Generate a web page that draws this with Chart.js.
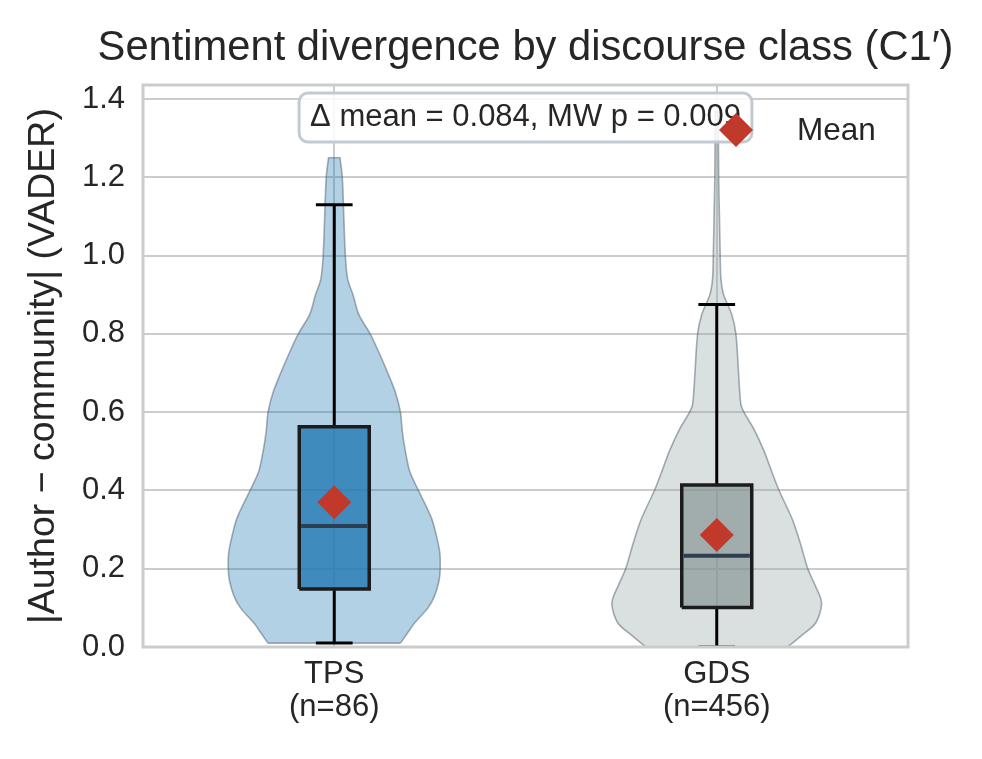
<!DOCTYPE html>
<html>
<head>
<meta charset="utf-8">
<title>Sentiment divergence by discourse class</title>
<script src="https://cdn.jsdelivr.net/npm/chart.js@4.4.1/dist/chart.umd.min.js"></script>
<style>
  html, body { margin: 0; padding: 0; background: #ffffff; }
  #chart-wrap { width: 982px; height: 759px; }
</style>
</head>
<body>
<div id="chart-wrap"><canvas id="violin-chart" width="982" height="759"></canvas></div>
<script>
// Categories and group positions on the x axis
const categories = ['TPS', 'GDS'];
const sampleSizes = [86, 456];
const positions = [0, 1];

// Violin outlines: y level and half width (x units)
const tpsDensityY = [0.01, 0.035, 0.06, 0.1, 0.13, 0.17, 0.2, 0.24, 0.28, 0.33, 0.4, 0.45, 0.5, 0.55, 0.6, 0.65, 0.7, 0.75, 0.8, 0.85, 0.9, 0.94, 1.0, 1.1, 1.2, 1.25];
const tpsHalfWidth = [0.173, 0.191, 0.209, 0.245, 0.262, 0.274, 0.277, 0.276, 0.268, 0.254, 0.220, 0.197, 0.186, 0.178, 0.173, 0.160, 0.140, 0.118, 0.094, 0.064, 0.049, 0.035, 0.029, 0.025, 0.021, 0.015];
const gdsDensityY = [0.0, 0.028, 0.062, 0.113, 0.16, 0.2, 0.26, 0.325, 0.4, 0.45, 0.5, 0.555, 0.6, 0.62, 0.7, 0.8, 0.85, 0.9, 0.94, 1.0, 1.1, 1.2, 1.368];
const gdsHalfWidth = [0.185, 0.220, 0.259, 0.274, 0.256, 0.238, 0.220, 0.198, 0.163, 0.143, 0.124, 0.098, 0.071, 0.063, 0.057, 0.050, 0.039, 0.018, 0.011, 0.009, 0.007, 0.005, 0.004];

// Box plot statistics per group
const whiskerLow = [0.01, 0.0];
const quartile1 = [0.148, 0.101];
const medians = [0.309, 0.233];
const quartile3 = [0.563, 0.414];
const whiskerHigh = [1.13, 0.875];
const means = [0.370, 0.286];

// Axis ticks
const yTicks = [0.0, 0.2, 0.4, 0.6, 0.8, 1.0, 1.2, 1.4];

const violinFill = ['rgba(31, 119, 180, 0.34)', 'rgba(149, 165, 166, 0.35)'];
const boxFill = ['rgba(31, 119, 180, 0.78)', 'rgba(127, 140, 141, 0.62)'];
const fontFamily = '"Liberation Sans", Arial, "DejaVu Sans", sans-serif';
const textColor = '#262626';
const gridColor = '#cccccc';

const boxHalf = 0.0915;
const capHalf = 0.048;

// Build the closed outline of one violin; end points are doubled so the
// spline keeps sharp corners at the flat top and bottom
function violinOutline(center, ys, halfWidths) {
  const right = ys.map((y, i) => ({ x: center + halfWidths[i], y }));
  const left = ys.map((y, i) => ({ x: center - halfWidths[i], y })).reverse();
  const rTop = right[right.length - 1];
  const lBottom = left[left.length - 1];
  return [...right, { ...rTop }, left[0], ...left, { ...lBottom }, { ...right[0] }];
}

function lineSet(points, color, width, order) {
  return {
    type: 'line',
    data: points,
    borderColor: color,
    borderWidth: width,
    pointRadius: 0,
    pointHoverRadius: 0,
    fill: false,
    tension: 0,
    order
  };
}

const datasets = [];

const violinData = [[tpsDensityY, tpsHalfWidth], [gdsDensityY, gdsHalfWidth]];
positions.forEach((c, g) => {
  // Violin body
  datasets.push({
    type: 'line',
    data: violinOutline(c, violinData[g][0], violinData[g][1]),
    borderColor: 'rgba(80, 95, 110, 0.5)',
    borderWidth: 1.6,
    backgroundColor: violinFill[g],
    fill: 'shape',
    pointRadius: 0,
    pointHoverRadius: 0,
    tension: 0.3,
    order: 5
  });

  // Whiskers and caps
  datasets.push(lineSet([{ x: c, y: whiskerLow[g] }, { x: c, y: quartile1[g] }], '#000000', 3, 4));
  datasets.push(lineSet([{ x: c, y: quartile3[g] }, { x: c, y: whiskerHigh[g] }], '#000000', 3, 4));
  datasets.push(lineSet([{ x: c - capHalf, y: whiskerLow[g] }, { x: c + capHalf, y: whiskerLow[g] }], '#000000', 3, 4));
  datasets.push(lineSet([{ x: c - capHalf, y: whiskerHigh[g] }, { x: c + capHalf, y: whiskerHigh[g] }], '#000000', 3, 4));

  // Box
  const box = lineSet([
    { x: c - boxHalf, y: quartile1[g] },
    { x: c + boxHalf, y: quartile1[g] },
    { x: c + boxHalf, y: quartile3[g] },
    { x: c - boxHalf, y: quartile3[g] },
    { x: c - boxHalf, y: quartile1[g] }
  ], '#1c1c1c', 3.5, 3);
  box.backgroundColor = boxFill[g];
  box.fill = 'shape';
  box.borderJoinStyle = 'miter';
  datasets.push(box);

  // Median
  datasets.push(lineSet([{ x: c - boxHalf + 0.005, y: medians[g] }, { x: c + boxHalf - 0.005, y: medians[g] }], '#2c3e50', 4, 2));
});

// Means
datasets.push({
  type: 'line',
  label: 'Mean',
  data: positions.map((c, g) => ({ x: c, y: means[g] })),
  showLine: false,
  pointStyle: 'rectRot',
  pointRadius: 17,
  pointHoverRadius: 17,
  pointBackgroundColor: '#c0392b',
  pointBorderWidth: 0,
  order: 0
});

// Title, annotation box, frame and legend
const decorations = {
  id: 'decorations',
  afterDatasetsDraw(chart) {
    const { ctx, chartArea: a } = chart;
    const cx = (a.left + a.right) / 2;
    ctx.save();

    // Axes frame (all four spines)
    ctx.strokeStyle = gridColor;
    ctx.lineWidth = 3;
    ctx.strokeRect(a.left, a.top, a.right - a.left, a.bottom - a.top);

    // Stats annotation
    const note = '\u0394 mean = 0.084, MW p = 0.009';
    ctx.font = '31px ' + fontFamily;
    const tw = ctx.measureText(note).width;
    const bw = tw + 22, bh = 49, bx = cx - bw / 2, by = a.top + 8;
    ctx.beginPath();
    ctx.roundRect(bx, by, bw, bh, 9);
    ctx.fillStyle = 'rgba(255, 255, 255, 0.85)';
    ctx.fill();
    ctx.strokeStyle = '#c3cbd1';
    ctx.lineWidth = 3;
    ctx.stroke();
    ctx.fillStyle = textColor;
    ctx.textAlign = 'center';
    ctx.textBaseline = 'alphabetic';
    ctx.fillText(note, cx, by + 33);

    // Legend
    const meanSet = chart.data.datasets[chart.data.datasets.length - 1];
    const lx = a.right - 172, ly = a.top + 45;
    ctx.fillStyle = meanSet.pointBackgroundColor;
    ctx.beginPath();
    ctx.moveTo(lx - 17, ly);
    ctx.lineTo(lx, ly - 17);
    ctx.lineTo(lx + 17, ly);
    ctx.lineTo(lx, ly + 17);
    ctx.closePath();
    ctx.fill();
    ctx.fillStyle = textColor;
    ctx.textAlign = 'left';
    ctx.font = '31.5px ' + fontFamily;
    ctx.fillText(meanSet.label, a.right - 111, a.top + 55);

    // Title
    ctx.font = '41.7px ' + fontFamily;
    ctx.textAlign = 'center';
    ctx.fillText('Sentiment divergence by discourse class (C1\u2032)', cx, 60);
    ctx.restore();
  }
};

new Chart(document.getElementById('violin-chart').getContext('2d'), {
  type: 'line',
  data: { datasets },
  options: {
    responsive: false,
    animation: false,
    events: [],
    layout: { padding: { top: 85, right: 74, left: 0, bottom: 0 } },
    plugins: {
      legend: { display: false },
      tooltip: { enabled: false },
      title: { display: false }
    },
    scales: {
      x: {
        type: 'linear',
        min: -0.5,
        max: 1.5,
        afterBuildTicks: (scale) => { scale.ticks = positions.map(v => ({ value: v })); },
        afterFit: (scale) => { scale.height = 112; },
        grid: { color: gridColor, lineWidth: 2, drawTicks: false },
        border: { display: false },
        ticks: {
          autoSkip: false,
          maxRotation: 0,
          padding: 11,
          color: textColor,
          font: { family: fontFamily, size: 31, lineHeight: 1.07 },
          callback: (value, index) => [categories[index], `(n=${sampleSizes[index]})`]
        }
      },
      y: {
        type: 'linear',
        min: 0,
        max: 1.436,
        afterBuildTicks: (scale) => { scale.ticks = yTicks.map(v => ({ value: v })); },
        afterFit: (scale) => { scale.width = 143; },
        grid: { color: gridColor, lineWidth: 2, drawTicks: false },
        border: { display: false },
        ticks: {
          padding: 18,
          color: textColor,
          font: { family: fontFamily, size: 31 },
          callback: (value) => Number(value).toFixed(1)
        },
        title: {
          display: true,
          text: '|Author \u2212 community| (VADER)',
          color: textColor,
          font: { family: fontFamily, size: 37.5 },
          padding: { top: 21, bottom: 0 }
        }
      }
    }
  },
  plugins: [decorations]
});
</script>
</body>
</html>
